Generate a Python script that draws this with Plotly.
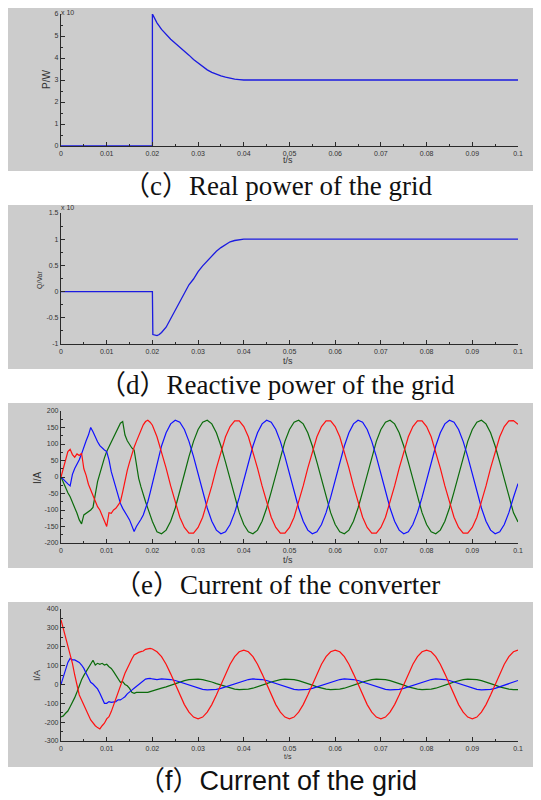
import plotly.graph_objects as go

# ---------------- data ----------------
# (c) real power (values shown in units of the "x 10" exponent)
t_p = [0, 0.02, 0.02, 0.021, 0.022, 0.023, 0.024, 0.025, 0.026, 0.027, 0.028, 0.029,
       0.030, 0.031, 0.032, 0.033, 0.034, 0.035, 0.036, 0.037, 0.038, 0.039, 0.040, 0.1]
p_grid = [0, 0, 6.0, 5.6, 5.3, 5.05, 4.85, 4.67, 4.5, 4.32, 4.13, 3.93,
          3.76, 3.6, 3.46, 3.35, 3.26, 3.19, 3.13, 3.08, 3.04, 3.02, 3.0, 3.0]

# (d) reactive power
t_q = [0, 0.02, 0.0201, 0.0205, 0.021, 0.0215, 0.022, 0.023, 0.024, 0.025, 0.026, 0.027,
       0.028, 0.029, 0.030, 0.031, 0.032, 0.033, 0.034, 0.035, 0.036, 0.037, 0.038, 0.039,
       0.040, 0.1]
q_grid = [0, 0, -0.82, -0.83, -0.84, -0.82, -0.78, -0.68, -0.52, -0.36, -0.2, -0.03,
          0.13, 0.24, 0.38, 0.49, 0.58, 0.69, 0.77, 0.84, 0.9, 0.95, 0.975, 0.99,
          1.0, 1.0]

# sample times for the current waveforms: 0..0.02 every 0.5 ms, then every 1 ms
t_i = [round(i * 0.0005, 4) for i in range(41)] + [round(0.021 + i * 0.001, 3) for i in range(80)]

# (e) converter currents, 0..0.02 s
e_red_a = [0, 25, 52, 77, 84, 68, 60, 70, 65, 72, 25, 5, -22, -40, -55, -75, -90, -100, -115, -130,
           -150, -108, -110, -100, -95, -85, -75, -45, -10, 20, 45, 70, 90, 108, 125, 142, 158, 168,
           172, 166, 157]
e_blue_a = [0, -8, -14, -21, -27, 8, 26, 38, 52, 70, 92, 110, 127, 150, 137, 120, 107, 95, 87, 82,
            77, 52, 16, -10, -34, -60, -80, -95, -105, -118, -130, -145, -165, -150, -140, -128,
            -115, -95, -75, -48, -19]
e_green_a = [0, -18, -34, -48, -60, -75, -90, -110, -130, -142, -115, -110, -105, -100, -92, -55,
             -14, 10, 36, 58, 77, 92, 107, 122, 137, 150, 163, 168, 127, 110, 97, 88, 82, 40, -4,
             -30, -55, -75, -95, -115, -135]
# (e) converter currents, 0.021..0.1 s
e_red_b = [122, 78, 27, -27, -78, -122, -153, -170, -170, -153, -122, -78, -27, 27, 78, 122, 153, 170, 170, 153,
           122, 78, 27, -27, -78, -122, -153, -170, -170, -153, -122, -78, -27, 27, 78, 122, 153, 170, 170, 153,
           122, 78, 27, -27, -78, -122, -153, -170, -170, -153, -122, -78, -27, 27, 78, 122, 153, 170, 170, 153,
           122, 78, 27, -27, -78, -122, -153, -170, -170, -153, -122, -78, -27, 27, 78, 122, 153, 170, 171, 160]
e_blue_b = [45, 94, 134, 161, 172, 166, 144, 108, 62, 9, -45, -94, -134, -161, -172, -166, -144, -108, -62, -9,
            45, 94, 134, 161, 172, 166, 144, 108, 62, 9, -45, -94, -134, -161, -172, -166, -144, -108, -62, -9,
            45, 94, 134, 161, 172, 166, 144, 108, 62, 9, -45, -94, -134, -161, -172, -166, -144, -108, -62, -9,
            45, 94, 134, 161, 172, 166, 144, 108, 62, 9, -45, -94, -134, -161, -172, -166, -144, -108, -62, -20]
e_green_b = [-166, -172, -161, -134, -94, -45, 9, 62, 108, 144, 166, 172, 161, 134, 94, 45, -9, -62, -108, -144,
             -166, -172, -161, -134, -94, -45, 9, 62, 108, 144, 166, 172, 161, 134, 94, 45, -9, -62, -108, -144,
             -166, -172, -161, -134, -94, -45, 9, 62, 108, 144, 166, 172, 161, 134, 94, 45, -9, -62, -108, -144,
             -166, -172, -161, -134, -94, -45, 9, 62, 108, 144, 166, 172, 161, 134, 94, 45, -9, -62, -108, -136]

# (f) grid currents, 0..0.02 s
f_red_a = [342, 297, 244, 200, 165, 112, 50, -3, -56, -82, -109, -144, -162, -188, -206, -219, -229,
           -236, -219, -206, -183, -171, -144, -109, -74, -42, -12, 24, 59, 85, 112, 135, 156, 165, 170,
           174, 177, 186, 188, 191, 188]
f_blue_a = [0, 41, 82, 117, 138, 130, 130, 121, 117, 103, 85, 59, 32, 11, 2, -12, -24, -47, -73, -100,
            -100, -91, -95, -91, -91, -82, -82, -74, -65, -50, -38, -30, -20, -10, -2, 10, 22, 28, 31,
            32, 29]
f_green_a = [-172, -167, -153, -141, -118, -95, -70, -40, -5, 25, 48, 68, 88, 112, 128, 103, 112, 107,
             112, 103, 107, 94, 85, 68, 50, 29, 11, 15, 0, -7, -21, -42, -47, -42, -42, -44, -42, -42,
             -42, -38, -35]
# (f) grid currents, 0.021..0.1 s
f_red_b = [173, 147, 107, 56, 0, -56, -107, -147, -173, -182, -173, -147, -107, -56, 0, 56, 107, 147, 173, 182,
           173, 147, 107, 56, 0, -56, -107, -147, -173, -182, -173, -147, -107, -56, 0, 56, 107, 147, 173, 182,
           173, 147, 107, 56, 0, -56, -107, -147, -173, -182, -173, -147, -107, -56, 0, 56, 107, 147, 173, 182,
           173, 147, 107, 56, 0, -56, -107, -147, -173, -182, -173, -147, -107, -56, 0, 56, 107, 147, 173, 182]
f_blue_b = [26, 29, 29, 26, 21, 13, 5, -5, -13, -21, -26, -29, -29, -26, -21, -13, -5, 5, 13, 21,
            26, 29, 29, 26, 21, 13, 5, -5, -13, -21, -26, -29, -29, -26, -21, -13, -5, 5, 13, 21,
            26, 29, 29, 26, 21, 13, 5, -5, -13, -21, -26, -29, -29, -26, -21, -13, -5, 5, 13, 21,
            26, 29, 29, 26, 21, 13, 5, -5, -13, -21, -26, -29, -29, -26, -21, -13, -5, 5, 13, 21]
f_green_b = [-25, -20, -13, -4, 4, 13, 20, 25, 28, 28, 25, 20, 13, 4, -4, -13, -20, -25, -28, -28,
             -25, -20, -13, -4, 4, 13, 20, 25, 28, 28, 25, 20, 13, 4, -4, -13, -20, -25, -28, -28,
             -25, -20, -13, -4, 4, 13, 20, 25, 28, 28, 25, 20, 13, 4, -4, -13, -20, -25, -28, -28,
             -25, -20, -13, -4, 4, 13, 20, 25, 28, 28, 25, 20, 13, 4, -4, -13, -20, -25, -28, -28]

# tick labels
x_ticks = [0, 0.01, 0.02, 0.03, 0.04, 0.05, 0.06, 0.07, 0.08, 0.09, 0.1]
x_tick_text = ["0", "0.01", "0.02", "0.03", "0.04", "0.05", "0.06", "0.07", "0.08", "0.09", "0.1"]
yc_ticks = [0, 1, 2, 3, 4, 5, 6]
yd_ticks = [-1, -0.5, 0, 0.5, 1, 1.5]
yd_tick_text = ["-1", "-0.5", "0", "0.5", "1", "1.5"]
ye_ticks = [-200, -150, -100, -50, 0, 50, 100, 150, 200]
ye_tick_text = ["-200", "-150", "-100", "-50", "0", "50", "100", "150", "200"]
yf_ticks = [-300, -200, -100, 0, 100, 200, 300, 400]
yf_tick_text = ["-300", "-200", "-100", "0", "100", "200", "300", "400"]

captions = ["（c）Real power of the grid", "（d）Reactive power of the grid",
            "（e）Current of the converter", "（f）Current of the grid"]

# ---------------- figure ----------------
OFF = 8                      # page body margin of the browser
W, H = 541 - OFF, 800 - OFF
RED, BLUE, GREEN = "#ff1010", "#1010ff", "#0b6b0b"
PBLUE = "#1a1ae0"
GREY = "#cccccc"
AX = "#2a2a2a"
SANS = "Liberation Sans, Arial, sans-serif"
SERIF = "Liberation Serif, 'Noto Sans CJK SC', serif"


def px_x(x):
    return (x - OFF) / W


def px_y(y):
    return 1 - (y - OFF) / H


fig = go.Figure()

e_red = e_red_a + e_red_b
e_blue = e_blue_a + e_blue_b
e_green = e_green_a + e_green_b
f_red = f_red_a + f_red_b
f_blue = f_blue_a + f_blue_b
f_green = f_green_a + f_green_b

fig.add_trace(go.Scatter(x=t_p, y=p_grid, mode="lines", line=dict(color=PBLUE, width=1.3),
                         xaxis="x", yaxis="y"))
fig.add_trace(go.Scatter(x=t_q, y=q_grid, mode="lines", line=dict(color=PBLUE, width=1.3),
                         xaxis="x2", yaxis="y2"))
for ys, col in ((e_green, GREEN), (e_blue, BLUE), (e_red, RED)):
    fig.add_trace(go.Scatter(x=t_i, y=ys, mode="lines", line=dict(color=col, width=1.2),
                             xaxis="x3", yaxis="y3"))
for ys, col in ((f_green, GREEN), (f_blue, BLUE), (f_red, RED)):
    fig.add_trace(go.Scatter(x=t_i, y=ys, mode="lines", line=dict(color=col, width=1.2),
                             xaxis="x4", yaxis="y4"))

# panel geometry in reference pixels (plot-area top/bottom, grey box top/bottom)
plot_rows = [(14, 146), (213, 344), (411, 543), (609, 741)]
grey_rows = [(6, 171), (205, 369), (403, 568), (602, 767)]
x_dom = [px_x(61), px_x(518)]

y_specs = [
    dict(range=[0, 6], tickvals=yc_ticks, ticktext=[str(v) for v in yc_ticks], minor=0.5),
    dict(range=[-1, 1.5], tickvals=yd_ticks, ticktext=yd_tick_text, minor=0.25),
    dict(range=[-200, 200], tickvals=ye_ticks, ticktext=ye_tick_text, minor=25),
    dict(range=[-300, 400], tickvals=yf_ticks, ticktext=yf_tick_text, minor=50),
]

layout = dict(
    width=W, height=H, margin=dict(l=0, r=0, t=0, b=0, pad=0),
    paper_bgcolor="white", plot_bgcolor=GREY, showlegend=False,
    font=dict(family=SANS, size=7, color="#333333"),
)
for i in range(4):
    sfx = "" if i == 0 else str(i + 1)
    top, bot = plot_rows[i]
    spec = y_specs[i]
    layout["xaxis" + sfx] = dict(
        domain=x_dom, range=[0, 0.1], anchor="y" + sfx, automargin=False,
        tickvals=x_ticks, ticktext=x_tick_text, ticks="inside", ticklen=4, tickwidth=1,
        tickcolor=AX, showline=True, linecolor=AX, linewidth=1.2, showgrid=False,
        zeroline=False, tickfont=dict(size=7, color="#333333"),
        minor=dict(ticks="inside", ticklen=2, dtick=0.005, tick0=0, tickcolor=AX, showgrid=False),
    )
    layout["yaxis" + sfx] = dict(
        domain=[px_y(bot), px_y(top)], range=spec["range"], anchor="x" + sfx, automargin=False,
        tickvals=spec["tickvals"], ticktext=spec["ticktext"], ticks="inside", ticklen=4,
        tickwidth=1, tickcolor=AX, showline=True, linecolor=AX, linewidth=1.2,
        showgrid=False, zeroline=False, tickfont=dict(size=7, color="#333333"),
        minor=dict(ticks="inside", ticklen=2, dtick=spec["minor"], tick0=0, tickcolor=AX,
                   showgrid=False),
    )
fig.update_layout(**layout)

shapes = []
for top, bot in grey_rows:
    shapes.append(dict(type="rect", xref="paper", yref="paper", x0=-0.01, x1=1.01,
                       y0=px_y(bot), y1=px_y(top), fillcolor=GREY, line=dict(width=0),
                       layer="below"))
fig.update_layout(shapes=shapes)

ann = []
# captions
cap_y = [186, 385, 585, 781]
cap_font = [SERIF, SERIF, SERIF, "Liberation Sans, 'Noto Sans CJK SC', sans-serif"]
for txt, cy, fam in zip(captions, cap_y, cap_font):
    ann.append(dict(text=txt, x=px_x(277), y=px_y(cy), xref="paper", yref="paper",
                    showarrow=False, xanchor="center", yanchor="middle",
                    font=dict(family=fam, size=27, color="#111111")))
# x-axis titles
for cy, fs in ((160, 9), (361, 9), (560, 9), (756, 7)):
    ann.append(dict(text="t/s", x=px_x(288), y=px_y(cy), xref="paper", yref="paper",
                    showarrow=False, xanchor="center", yanchor="middle",
                    font=dict(family=SANS, size=fs, color="#333333")))
# y-axis titles
for txt, cx, cy, fs in (("P/W", 46, 80, 10), ("Q/Var", 40, 280, 7),
                        ("I/A", 37, 478, 10), ("I/A", 37, 676, 9)):
    ann.append(dict(text=txt, x=px_x(cx), y=px_y(cy), xref="paper", yref="paper",
                    showarrow=False, xanchor="center", yanchor="middle", textangle=-90,
                    font=dict(family=SANS, size=fs, color="#333333")))
# exponent labels
for cy in (12, 207):
    ann.append(dict(text="x 10", x=px_x(59), y=px_y(cy), xref="paper", yref="paper",
                    showarrow=False, xanchor="left", yanchor="middle",
                    font=dict(family=SANS, size=7, color="#333333")))
fig.update_layout(annotations=ann)

fig.write_html("out.html")
